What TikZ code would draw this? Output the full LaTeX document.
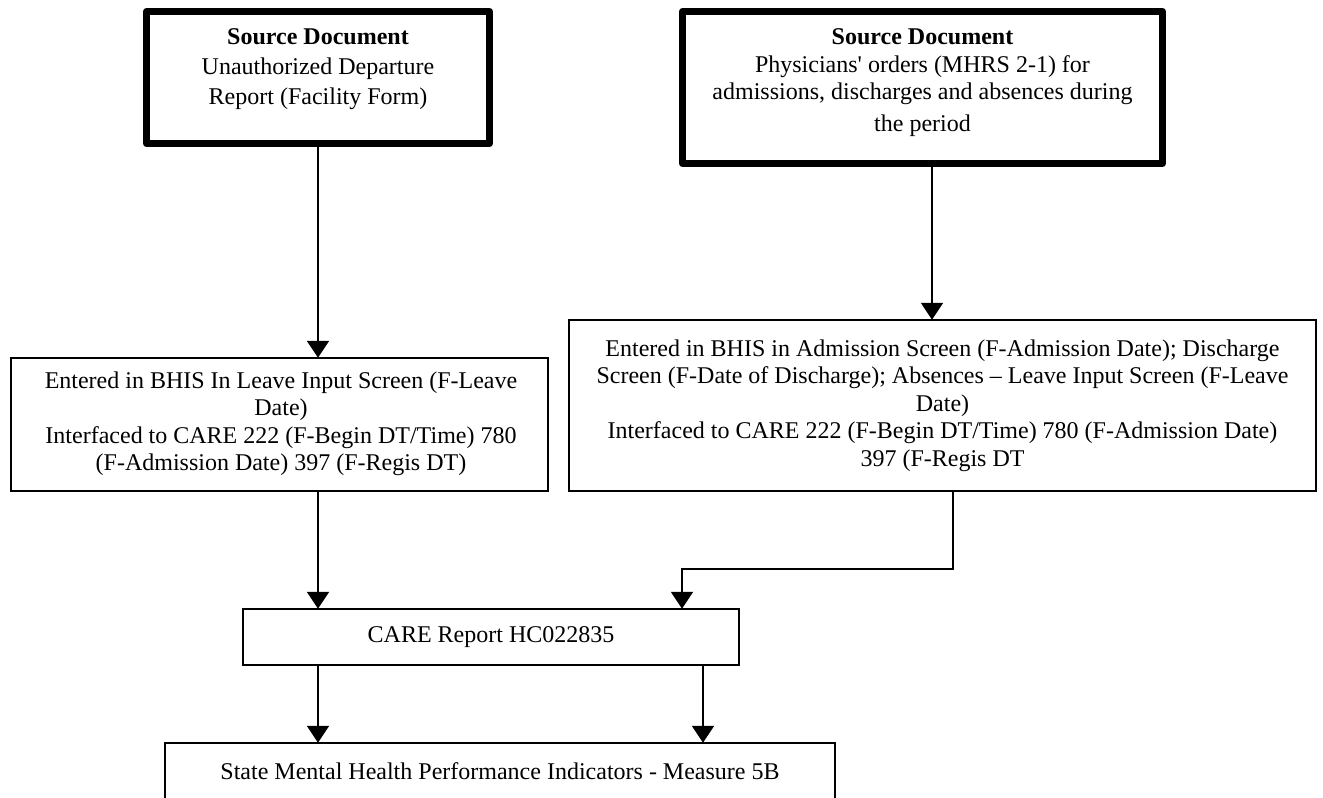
\documentclass[tikz,border=0pt]{standalone}
\usepackage{fontspec}
\newfontfamily\txtfont{Liberation Serif}
\usetikzlibrary{arrows.meta,calc}
\begin{document}
\begin{tikzpicture}[x=0.75pt,y=-0.75pt,
  srcbox/.style={draw, line width=5.25pt, line join=round, inner sep=0pt, outer sep=0pt},
  plainbox/.style={draw, line width=1.5pt, inner sep=0pt, outer sep=0pt},
  txt/.style={font=\txtfont\fontsize{18}{20.6}\selectfont, align=center, inner sep=0pt},
  arr/.style={line width=1.5pt, -{Triangle[width=16.5pt,length=12.75pt]}},
]
\useasboundingbox (0,0) rectangle (1323,797);
\clip (0,0) rectangle (1323,797);
% boxes
\node[srcbox, minimum width=257.25pt, minimum height=99pt] (b1) at (318,77.5) {};
\node[srcbox, minimum width=360pt, minimum height=114pt] (b2) at (922.5,87.5) {};
\node[plainbox, minimum width=403.125pt, minimum height=100.125pt] (b3) at (279.5,424.5) {};
\node[plainbox, minimum width=560.625pt, minimum height=128.625pt] (b4) at (942.5,405.5) {};
\node[plainbox, txt, minimum width=372.375pt, minimum height=42.375pt] (care) at (491,637) {CARE Report HC022835};
\node[plainbox, txt, minimum width=502.875pt, minimum height=42.375pt] (bot) at (500,771) {State Mental Health Performance Indicators - Measure 5B};
% texts
\node[txt, anchor=north] (t1) at (318,28.6) {\textbf{Source Document}\\[1.9pt] Unauthorized Departure\\[1.9pt] Report (Facility Form)};
\node[txt, anchor=north] (t2) at (922.5,28.6) {\textbf{Source Document}\\ Physicians' orders (MHRS 2-1) for\\ admissions, discharges and absences during\\[3.5pt] the period};
\node[txt, anchor=north] (t3) at (281,371.6) {Entered in BHIS In Leave Input Screen (F-Leave\\ Date)\\ Interfaced to CARE 222 (F-Begin DT/Time) 780\\ (F-Admission Date) 397 (F-Regis DT)};
\node[txt, anchor=north] (t4) at (942.5,339.6) {Entered in BHIS in Admission Screen (F-Admission Date); Discharge\\ Screen (F-Date of Discharge); Absences – Leave Input Screen (F-Leave\\ Date)\\ Interfaced to CARE 222 (F-Begin DT/Time) 780 (F-Admission Date)\\ 397 (F-Regis DT};
% connectors
\coordinate (a2) at ($(b2.south)+(9.5,0)$);
\coordinate (a4) at ($(b4.south)+(10.5,0)$);
\coordinate (c2) at ($(care.north)+(191,0)$);
\coordinate (c3) at ($(care.south)+(212,0)$);
\draw[arr] (b1.south) -- (b1.south |- b3.north);
\draw[arr] (a2) -- (a2 |- b4.north);
\draw[arr] (b1.south |- b3.south) -- (b1.south |- care.north);
\draw[arr] (a4) -- ($(a4)+(0,77.75)$) -| (c2);
\draw[arr] (b1.south |- care.south) -- (b1.south |- bot.north);
\draw[arr] (c3) -- (c3 |- bot.north);
\end{tikzpicture}
\end{document}
